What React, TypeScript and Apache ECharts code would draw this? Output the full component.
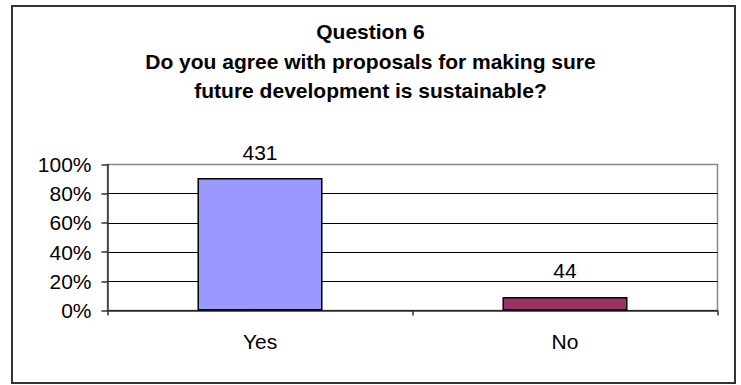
import React, { useEffect, useRef } from "react";
import * as echarts from "echarts";

const titleLines = [
  "Question 6",
  "Do you agree with proposals for making sure",
  "future development is sustainable?",
];
const categories = ["Yes", "No"];
const counts = [431, 44];
const barColors = ["#9999FF", "#993366"];
const yTicks = [0, 20, 40, 60, 80, 100];

export default function App() {
  const ref = useRef<HTMLDivElement>(null);
  useEffect(() => {
    if (!ref.current) return;
    const chart = echarts.init(ref.current, undefined, { renderer: "svg" });
    const total = counts.reduce((a, b) => a + b, 0);
    const font = "'Liberation Sans', Arial, sans-serif";
    chart.setOption({
      animation: false,
      backgroundColor: "#ffffff",
      textStyle: { fontFamily: font },
      title: {
        text: titleLines.join("\n"),
        left: "center",
        top: 17,
        padding: [0, 0, 0, 7],
        textStyle: {
          fontFamily: font,
          fontWeight: "bold",
          fontSize: 21,
          lineHeight: 29.5,
          color: "#000",
        },
      },
      graphic: [
        {
          type: "rect",
          shape: { x: 12, y: 6, width: 723, height: 377 },
          style: { fill: "none", stroke: "#333", lineWidth: 2 },
          silent: true,
          z: 100,
        },
      ],
      grid: {
        left: 107.5,
        right: 23.5,
        top: 164.5,
        bottom: 74.5,
        show: true,
        borderColor: "#888",
        borderWidth: 1.5,
        backgroundColor: "transparent",
        containLabel: false,
      },
      xAxis: {
        type: "category",
        data: categories,
        axisLine: { show: true, lineStyle: { color: "#333", width: 1.5 } },
        axisTick: { show: true, length: 5, alignWithLabel: false, lineStyle: { color: "#333", width: 1.5 } },
        axisLabel: { color: "#000", fontSize: 21, margin: 20.5, fontFamily: font },
        splitLine: { show: false },
      },
      yAxis: {
        type: "value",
        min: yTicks[0],
        max: yTicks[yTicks.length - 1],
        interval: 20,
        axisLine: { show: true, lineStyle: { color: "#333", width: 1.5 } },
        axisTick: { show: true, length: 6, lineStyle: { color: "#333", width: 1.5 } },
        axisLabel: { color: "#000", fontSize: 21, margin: 16, formatter: "{value}%", fontFamily: font },
        splitLine: { show: true, showMaxLine: false, lineStyle: { color: "#000", width: 1 } },
      },
      series: [
        {
          type: "bar",
          barCategoryGap: "59%",
          data: counts.map((c, i) => ({
            value: (c / total) * 100,
            itemStyle: { color: barColors[i], borderColor: "#000", borderWidth: 1.5 },
          })),
          label: {
            show: true,
            position: "top",
            distance: 15.5,
            fontSize: 21,
            color: "#000",
            fontFamily: font,
            formatter: (p: any) => String(counts[p.dataIndex]),
          },
        },
      ],
    });
    return () => chart.dispose();
  }, []);
  return (
    <div
      ref={ref}
      style={{ position: "fixed", left: 0, top: 0, width: 741, height: 385 }}
    />
  );
}
